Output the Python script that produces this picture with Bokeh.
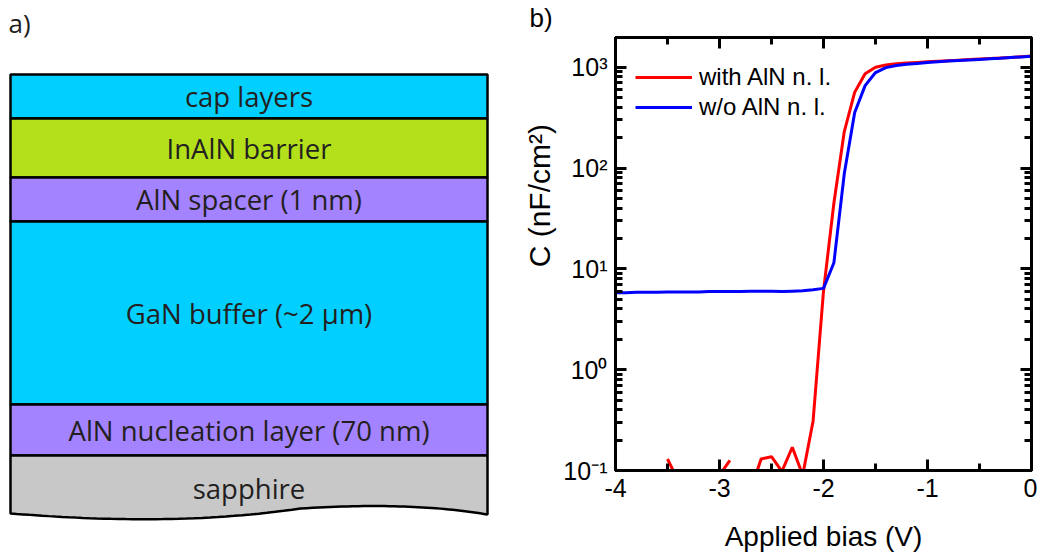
import numpy as np
from bokeh.plotting import figure
from bokeh.layouts import row
from bokeh.models import (Range1d, ColumnDataSource, LinearAxis, LogAxis,
                          SingleIntervalTicker, LogTicker, CustomJSTickFormatter, Label)
from bokeh.core.properties import value
from bokeh.embed import file_html
from bokeh.resources import INLINE

# ---------------- a) heterostructure layer stack ----------------
layer_names = ["cap layers", "InAlN barrier", "AlN spacer (1 nm)",
               "GaN buffer (~2 \u03bcm)", "AlN nucleation layer (70 nm)", "sapphire"]
# schematic (not to scale) drawing heights of each layer
layer_thickness = [44, 59, 44, 183, 51, 66]
layer_colors = ["#00CFFF", "#B3E01A", "#A383FF", "#00CFFF", "#A383FF", "#C8C8C8"]

# ---------------- b) C-V characteristics ----------------
bias = [-4.0, -3.9, -3.8, -3.7, -3.6, -3.5, -3.4, -3.3, -3.2, -3.1,
        -3.0, -2.9, -2.8, -2.7, -2.6, -2.5, -2.4, -2.3, -2.2, -2.1,
        -2.0, -1.9, -1.8, -1.7, -1.6, -1.5, -1.4, -1.3, -1.2, -1.1,
        -1.0, -0.9, -0.8, -0.7, -0.6, -0.5, -0.4, -0.3, -0.2, -0.1, 0.0]
nan = float("nan")
# capacitance with AlN nucleation layer (nan = non-positive reading)
c_with_aln = [nan, nan, nan, nan, nan, 0.13, 0.08, nan, nan, nan,
              0.09, 0.126, nan, 0.064, 0.13, 0.137, 0.098, 0.17, 0.09, 0.31,
              6.0, 45, 230, 565, 860, 1000, 1050, 1080, 1100, 1115,
              1130, 1145, 1160, 1175, 1190, 1205, 1220, 1235, 1250, 1270, 1290]
# capacitance without AlN nucleation layer
c_without_aln = [5.8, 5.8, 5.85, 5.85, 5.85, 5.9, 5.9, 5.9, 5.9, 5.95,
                 5.95, 5.95, 5.95, 6.0, 6.0, 6.0, 5.95, 6.0, 6.05, 6.2,
                 6.4, 11.5, 88, 355, 656, 885, 990, 1040, 1070, 1090,
                 1110, 1130, 1150, 1165, 1180, 1195, 1210, 1225, 1245, 1265, 1285]

INK = "#231F20"
SCHEME_FONT = "Open Sans"
PLOT_FONT = "Liberation Sans"

# ---------- panel a ----------
pa = figure(width=520, height=558, x_range=Range1d(0, 520), y_range=Range1d(558, 0),
            x_axis_type=None, y_axis_type=None, output_backend="svg",
            toolbar_location=None, min_border=0, outline_line_color=None,
            frame_align=False)
pa.grid.visible = False

stack_top = 74
x_left, x_right = 10, 487
bounds = np.concatenate([[stack_top], stack_top + np.cumsum(layer_thickness)])
tops = bounds[:-1]
bottoms = bounds[1:]

n_flat = len(layer_names) - 1
pa.quad(left=x_left, right=x_right, top=tops[:n_flat], bottom=bottoms[:n_flat],
        fill_color=layer_colors[:n_flat], line_color="black", line_width=2.5)

# substrate with a broken (wavy) lower edge
s_top = tops[-1]


def bezier(p0, p1, p2, p3, n=40):
    t = np.linspace(0, 1, n)[:, None]
    pts = ((1 - t) ** 3) * np.array(p0) + 3 * ((1 - t) ** 2) * t * np.array(p1) \
        + 3 * (1 - t) * t ** 2 * np.array(p2) + t ** 3 * np.array(p3)
    return pts[:, 0], pts[:, 1]


wx1, wy1 = bezier((x_left, s_top + 58), (90, s_top + 64), (190, s_top + 69), (300, s_top + 53))
wx2, wy2 = bezier((300, s_top + 53), (380, s_top + 48), (440, s_top + 51), (x_right, s_top + 59))
wave_x = np.concatenate([wx1, wx2[1:]])
wave_y = np.concatenate([wy1, wy2[1:]])

pa.patch(x=np.concatenate([[x_left, x_right], wave_x[::-1]]),
         y=np.concatenate([[s_top, s_top], wave_y[::-1]]),
         fill_color=layer_colors[-1], line_color=None)
pa.line(x=np.concatenate([[x_left], wave_x, [x_right]]),
        y=np.concatenate([[s_top], wave_y, [s_top]]),
        line_color="black", line_width=2.5)
pa.line(x=[x_left, x_right], y=[s_top, s_top], line_color="black", line_width=2.5)

label_src = ColumnDataSource(dict(x=[(x_left + x_right) / 2] * len(layer_names),
                                  y=(tops + bottoms) / 2, text=layer_names))
pa.text(x="x", y="y", text="text", source=label_src, text_align="center",
        text_baseline="middle", text_font=value(SCHEME_FONT), text_font_size="27.5px",
        text_color=INK)

pa.add_layout(Label(x=8, y=22, text="a)", text_baseline="middle", text_font=SCHEME_FONT,
                    text_font_size="26px", text_color=INK))

# ---------- panel b ----------
pb = figure(width=517, height=558, y_axis_type="log",
            x_range=Range1d(-4, 0), y_range=Range1d(0.1, 1970),
            output_backend="svg", toolbar_location=None, frame_align=False,
            min_border_left=93, min_border_right=6, min_border_top=35, min_border_bottom=88)
pb.grid.visible = False
pb.outline_line_color = "black"
pb.outline_line_width = 3

# panel tag, pushed left of the frame
pb.title.text = "b)"
pb.title.align = "left"
pb.title.offset = -86
pb.title.standoff = 0
pb.title.text_font = PLOT_FONT
pb.title.text_font_size = "26px"
pb.title.text_font_style = "normal"
pb.title.text_color = "black"

src = ColumnDataSource(dict(v=bias, c1=c_with_aln, c2=c_without_aln))
pb.line("v", "c1", source=src, line_color="#FF0000", line_width=3, legend_label="with AlN n. l.")
pb.line("v", "c2", source=src, line_color="#0000FF", line_width=3, legend_label="w/o AlN n. l.")

sup_js = """
const sup = {"-": "\u207b", "0": "\u2070", "1": "\u00b9", "2": "\u00b2", "3": "\u00b3",
             "4": "\u2074", "5": "\u2075", "6": "\u2076", "7": "\u2077", "8": "\u2078", "9": "\u2079"};
const e = Math.round(Math.log10(tick));
return "10" + String(e).split("").map(c => sup[c]).join("");
"""

bottom_axis = pb.below[0]
left_axis = pb.left[0]

blank = CustomJSTickFormatter(code="return ' ';")
top_axis = LinearAxis(ticker=SingleIntervalTicker(interval=1, num_minor_ticks=2),
                      formatter=blank, major_label_text_font_size="2px", major_label_standoff=0)
right_axis = LogAxis(ticker=LogTicker(num_minor_ticks=10),
                     formatter=blank, major_label_text_font_size="2px", major_label_standoff=0)
pb.add_layout(top_axis, "above")
pb.add_layout(right_axis, "right")

bottom_axis.ticker = SingleIntervalTicker(interval=1, num_minor_ticks=2)
bottom_axis.formatter = CustomJSTickFormatter(code="return tick.toFixed(0);")
left_axis.ticker = LogTicker(num_minor_ticks=10)
left_axis.formatter = CustomJSTickFormatter(code=sup_js)
bottom_axis.axis_label = "Applied bias (V)"
# leading no-break spaces lift the label above the axis centre
left_axis.axis_label = "\u00a0" * 14 + "C (nF/cm\u00b2)"

for ax in (bottom_axis, left_axis, top_axis, right_axis):
    ax.axis_line_width = 3
    ax.axis_line_color = "black"
    ax.major_tick_in = 11
    ax.major_tick_out = 0
    ax.minor_tick_in = 7
    ax.minor_tick_out = 0
    ax.major_tick_line_width = 3
    ax.minor_tick_line_width = 3
    ax.major_tick_line_color = "black"
    ax.minor_tick_line_color = "black"
    ax.major_label_text_font = PLOT_FONT
    ax.major_label_text_color = "black"
    ax.axis_label_text_font = PLOT_FONT
    ax.axis_label_text_font_style = "normal"
    ax.axis_label_text_color = "black"

for ax in (bottom_axis, left_axis):
    ax.major_label_text_font_size = "25px"
    ax.major_label_standoff = 8
bottom_axis.axis_label_text_font_size = "28px"
left_axis.axis_label_text_font_size = "30px"
bottom_axis.axis_label_standoff = 21
left_axis.axis_label_standoff = 4

leg = pb.legend[0]
leg.location = (20, 435 - 27 - 60)
leg.border_line_color = None
leg.background_fill_alpha = 0
leg.padding = 0
leg.margin = 0
leg.spacing = 0
leg.glyph_width = 57
leg.glyph_height = 30
leg.label_height = 30
leg.label_standoff = 7
leg.label_text_font = PLOT_FONT
leg.label_text_font_size = "24px"
leg.label_text_color = "black"

layout = row(pa, pb)
open("out.html", "w").write(file_html(layout, INLINE))
